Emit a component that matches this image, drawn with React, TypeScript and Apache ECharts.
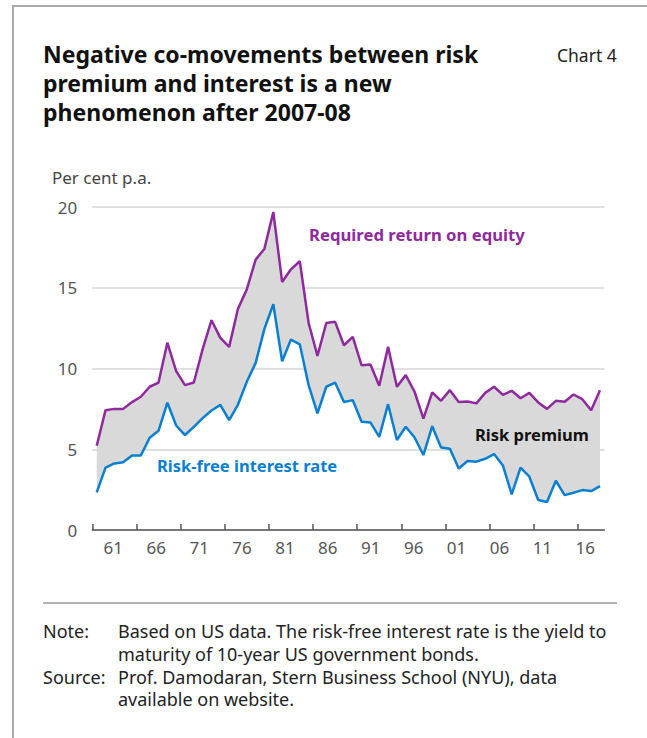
import React, { useEffect, useRef } from "react";
import * as echarts from "echarts";

const years: string[] = [];
for (let y = 1960; y <= 2017; y++) years.push(String(y));

const requiredReturn = [
  5.22, 7.42, 7.5, 7.5, 7.92, 8.25, 8.87, 9.13, 11.6, 9.84,
  8.97, 9.13, 11.2, 12.99, 11.9, 11.34, 13.7, 14.9, 16.74, 17.42,
  19.69, 15.36, 16.14, 16.64, 12.82, 10.78, 12.82, 12.89, 11.44, 11.96,
  10.2, 10.25, 8.93, 11.34, 8.87, 9.59, 8.56, 6.89, 8.52, 8.0,
  8.66, 7.92, 7.96, 7.84, 8.49, 8.87, 8.37, 8.62, 8.16, 8.49,
  7.9, 7.5, 8.0, 7.94, 8.39, 8.1, 7.42, 8.66,
];

const riskFree = [
  2.33, 3.86, 4.12, 4.2, 4.62, 4.62, 5.71, 6.14, 7.88, 6.47,
  5.88, 6.39, 6.93, 7.4, 7.75, 6.8, 7.77, 9.18, 10.35, 12.47,
  13.98, 10.45, 11.79, 11.5, 8.97, 7.22, 8.87, 9.13, 7.92, 8.04,
  6.7, 6.66, 5.77, 7.79, 5.57, 6.39, 5.73, 4.64, 6.43, 5.11,
  5.03, 3.81, 4.27, 4.23, 4.41, 4.7, 4.0, 2.21, 3.86, 3.3,
  1.86, 1.73, 3.05, 2.16, 2.31, 2.47, 2.41, 2.72,
];

const xTickLabels = [1961, 1966, 1971, 1976, 1981, 1986, 1991, 1996, 2001, 2006, 2011, 2016];
// tick marks sit on the boundaries between years, every five years
const xTickBoundaries = [1959.5, 1964.5, 1969.5, 1974.5, 1979.5, 1984.5, 1989.5, 1994.5, 1999.5, 2004.5, 2009.5, 2014.5];
const yTicks = [0, 5, 10, 15, 20];

const PURPLE = "#8f2a9e";
const BLUE = "#0a7fd2";
const FONT = "'Noto Sans', 'Open Sans', sans-serif";

export default function App() {
  const ref = useRef<HTMLDivElement>(null);
  useEffect(() => {
    if (!ref.current) return;
    const chart = echarts.init(ref.current, null, { renderer: "svg" });
    const premium = requiredReturn.map((v, i) => +(v - riskFree[i]).toFixed(3));
    chart.setOption({
      animation: false,
      backgroundColor: "#ffffff",
      textStyle: { fontFamily: FONT },
      grid: { left: 92.3, right: 42.6, top: 207, bottom: 208, containLabel: false },
      xAxis: [
        {
          type: "category",
          data: years,
          boundaryGap: true,
          axisLine: { show: true, lineStyle: { color: "#555", width: 1.5 } },
          axisTick: { show: false },
          axisLabel: { show: false },
          splitLine: { show: false },
        },
        {
          type: "value",
          position: "bottom",
          min: 1958.55,
          max: 2018.23,
          axisLine: { show: false },
          axisTick: { show: false },
          splitLine: { show: false },
          axisLabel: {
            customValues: xTickLabels,
            formatter: (v: number) => String(Math.round(v)).slice(2),
            color: "#555",
            fontSize: 17,
            margin: 9,
            fontFamily: FONT,
          },
        },
        {
          type: "value",
          position: "bottom",
          min: 1959.5,
          max: 2017.5,
          axisLine: { show: false },
          splitLine: { show: false },
          axisLabel: { show: false },
          axisTick: {
            show: true,
            inside: true,
            length: 6,
            customValues: xTickBoundaries,
            lineStyle: { color: "#555", width: 1.5 },
          },
        },
      ],
      yAxis: {
        type: "value",
        min: yTicks[0],
        max: yTicks[yTicks.length - 1],
        interval: 5,
        axisLine: { show: false },
        axisTick: { show: false },
        axisLabel: { color: "#555", fontSize: 17, margin: 15, fontFamily: FONT },
        splitLine: { lineStyle: { color: "#d6d6d6", width: 1.5 } },
      },
      series: [
        {
          name: "Risk-free interest rate",
          type: "line",
          stack: "s",
          data: riskFree,
          symbol: "none",
          z: 4,
          lineStyle: { color: BLUE, width: 2.5 },
          itemStyle: { color: BLUE },
        },
        {
          name: "Required return on equity",
          type: "line",
          stack: "s",
          data: premium,
          symbol: "none",
          z: 3,
          lineStyle: { color: PURPLE, width: 2.5 },
          itemStyle: { color: PURPLE },
          areaStyle: { color: "#d9d9d9", opacity: 1 },
        },
      ],
      graphic: [
        { type: "line", z: 100, shape: { x1: 13, y1: 6, x2: 13, y2: 738 }, style: { stroke: "#aaaaaa", lineWidth: 2 } },
        { type: "line", z: 100, shape: { x1: 12, y1: 6, x2: 647, y2: 6 }, style: { stroke: "#aaaaaa", lineWidth: 2 } },
        {
          type: "text",
          z: 100,
          left: 43,
          top: 39,
          style: {
            text: "Negative co-movements between risk\npremium and interest is a new\nphenomenon after 2007-08",
            font: `bold 23px ${FONT}`,
            lineHeight: 29,
            fill: "#111",
          },
        },
        { type: "text", z: 100, left: 557, top: 46, style: { text: "Chart 4", font: `17.5px ${FONT}`, fill: "#222" } },
        { type: "text", z: 100, left: 52, top: 169, style: { text: "Per cent p.a.", font: `17px ${FONT}`, fill: "#444" } },
        { type: "text", z: 100, left: 309, top: 226, style: { text: "Required return on equity", font: `bold 16.7px ${FONT}`, fill: PURPLE } },
        { type: "text", z: 100, left: 157, top: 457, style: { text: "Risk-free interest rate", font: `bold 16.5px ${FONT}`, fill: BLUE } },
        { type: "text", z: 100, left: 475, top: 426, style: { text: "Risk premium", font: `bold 16.5px ${FONT}`, fill: "#111" } },
        { type: "line", z: 100, shape: { x1: 43, y1: 603, x2: 617, y2: 603 }, style: { stroke: "#999999", lineWidth: 1.5 } },
        {
          type: "text",
          z: 100,
          left: 43,
          top: 620,
          style: { text: "Note:\n\nSource:", font: `18px ${FONT}`, lineHeight: 22.7, fill: "#222" },
        },
        {
          type: "text",
          z: 100,
          left: 118,
          top: 620,
          style: {
            text:
              "Based on US data. The risk-free interest rate is the yield to\nmaturity of 10-year US government bonds.\nProf. Damodaran, Stern Business School (NYU), data\navailable on website.",
            font: `18px ${FONT}`,
            lineHeight: 22.7,
            fill: "#222",
          },
        },
      ],
    });
    return () => chart.dispose();
  }, []);
  return (
    <div
      ref={ref}
      style={{ position: "fixed", left: 0, top: 0, width: 647, height: 738 }}
    />
  );
}
